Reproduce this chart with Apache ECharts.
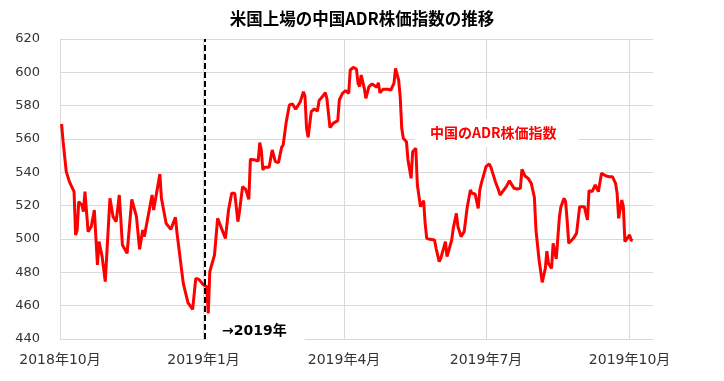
<!DOCTYPE html>
<html><head><meta charset="utf-8">
<script src="https://cdn.jsdelivr.net/npm/echarts@6/dist/echarts.min.js"></script>
<style>html,body{margin:0;padding:0;background:#fff}#c{width:724px;height:381px}</style>
</head><body><div id="c"></div>
<script>
const titleText = '米国上場の中国ADR株価指数の推移';
const seriesName = '中国のADR株価指数';
const markerLabel = '→2019年';
// x values: days since 2018-10-01
const tickDays = [0, 92, 182, 273, 365];
const tickLabels = ['2018年10月', '2019年1月', '2019年4月', '2019年7月', '2019年10月'];
const markerDay = 92.5;
const days = [1,2,3,4,6,9,10,11,12,14,15,16,18,20,22,24,25,27,29,32,34,36,38,40,43,46,49,51,53,54,57,59,60,64,65,66,68,71,74,75,79,82,85,86,87,89,92,94,95,96,99,101,102,106,108,109,110,112,114,115,117,119,121,122,125,127,128,129,130,131,134,136,138,140,142,143,145,147,149,151,154,156,157,158,159,161,163,165,166,169,170,171,173,175,178,179,181,183,185,186,188,190,191,192,193,195,196,198,200,203,204,205,207,210,211,212,214,215,217,218,219,220,222,223,225,226,228,229,231,233,234,235,237,240,241,243,244,245,247,248,249,251,252,254,255,256,257,259,261,263,264,266,268,269,270,271,273,275,276,279,281,282,283,286,288,289,291,293,295,296,297,298,300,302,304,305,307,309,311,312,313,315,316,318,320,321,323,324,325,326,329,331,333,336,338,339,341,343,345,347,350,352,354,356,357,358,360,361,362,363,365,366,367];
const values = [569,558.4,559.4,540.4,534.4,528.4,502.4,505.4,522.4,520.4,516.4,528.4,504.4,507.4,517.4,484.4,498.4,489.4,474.4,524.4,513.4,510.4,526.4,496.4,491.4,523.8,513.4,493.8,505.4,501.4,516.4,526.4,517.4,539,524.4,524.4,509.4,505.8,513,503.4,473.4,461.8,457.8,457.8,476.4,475.8,472.4,471.4,455.4,480.4,490.4,512.4,511.4,500.4,517.4,518.4,527.4,527.4,510.4,516.4,531.4,529.8,523.8,547.8,547.4,546.8,557.8,553.4,541.4,543,543,553.4,546.4,545.8,555,556.4,570.4,580.4,581,577.8,582.4,588.4,585.4,566.4,561,576.4,578,576.8,583,586.4,587.8,584.4,566.8,569.4,571,583.4,587.4,589,587.4,601.4,603,601.8,593.4,591.4,598.4,590.4,584.4,591.4,593,591,593.8,587.8,589.8,589.8,591,589.4,593.4,602.4,595.4,585.4,566.4,560.4,558.4,547.4,536.4,552.4,554.4,532.4,519.4,523,509.4,500.4,499.8,499.4,494.4,486.4,488.4,489.4,498.4,489.4,490.4,499.4,506.4,515.4,507.4,507.4,501.4,504.4,519.4,529.4,527.4,527,518.4,529.4,533.4,533.4,543.4,545,543.4,534.4,529.4,526.4,525.4,531.4,535,533.4,530.4,530,530.4,541.8,542.4,537.8,536.4,533.4,525,505.4,487.4,474,482.4,492.7,485.4,482.4,497.4,488,513,519.4,524.4,522.4,511,497.4,500.4,503.4,519.4,519.4,511.4,529,528.4,532.4,528.4,539.4,537.8,537.4,537.4,533.4,527.4,512.4,523.4,519.4,498.4,499.8,502.4,499.4,499];
const yMin = 440, yMax = 620, yStep = 20;

const chart = echarts.init(document.getElementById('c'));
const labelFont = "'DejaVu Sans', 'Noto Sans CJK JP', sans-serif";
chart.setOption({
  animation: false,
  backgroundColor: '#fff',
  title: {
    text: titleText, left: 'center', top: 5,
    textStyle: { fontFamily: "'Noto Sans CJK JP', sans-serif", fontWeight: 'bold', fontSize: 16.5, color: '#000' }
  },
  grid: { left: 60, right: 71, top: 39, bottom: 42 },
  xAxis: {
    type: 'value', min: 0, max: 380,
    axisLine: { show: true, lineStyle: { color: '#d9d9d9', width: 1 } },
    axisTick: { show: false, customValues: tickDays },
    axisLabel: {
      customValues: tickDays, margin: 14, fontSize: 14, color: '#333', fontFamily: labelFont,
      formatter: v => { const i = tickDays.indexOf(v); return i >= 0 ? tickLabels[i] : ''; }
    },
    splitLine: { show: true, lineStyle: { color: '#d9d9d9', width: 1 } }
  },
  yAxis: {
    type: 'value', min: yMin, max: yMax, interval: yStep,
    axisLine: { show: true, lineStyle: { color: '#d9d9d9', width: 1 } },
    axisTick: { show: false },
    axisLabel: { margin: 20, fontSize: 13, color: '#333', fontFamily: labelFont },
    splitLine: { show: true, lineStyle: { color: '#d9d9d9', width: 1 } }
  },
  graphic: { elements: [
    { type: 'text', x: 207, y: 331, z: 1, silent: true,
      style: { text: markerLabel, font: "bold 14px 'DejaVu Sans', 'Noto Sans CJK JP'", fill: '#000',
               backgroundColor: '#fff', padding: [3, 18, 3, 15], verticalAlign: 'middle', align: 'left' } },
    { type: 'text', x: 415, y: 133, z: 1, silent: true,
      style: { text: seriesName, font: "bold 14px 'Noto Sans CJK JP'", fill: '#ff0000',
               backgroundColor: '#fff', padding: [7, 22, 7, 15], verticalAlign: 'middle', align: 'left' } }
  ]},
  series: [{
    name: seriesName, type: 'line', showSymbol: false, symbol: 'none',
    lineStyle: { color: '#ff0000', width: 3 },
    data: days.map((d, i) => [d, values[i]]),
    markLine: {
      silent: true, symbol: ['none', 'none'], label: { show: false },
      lineStyle: { color: '#000', type: [6, 3], width: 2 },
      data: [{ xAxis: markerDay }]
    }
  }]
});
</script></body></html>
